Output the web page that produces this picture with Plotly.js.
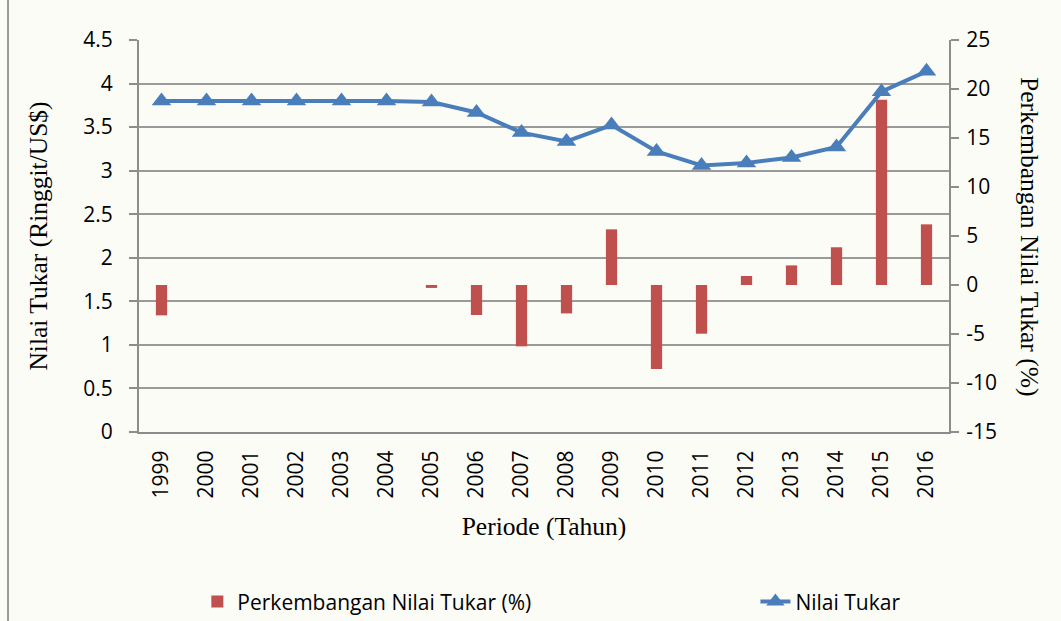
<!DOCTYPE html>
<html>
<head>
<meta charset="utf-8">
<script src="https://cdn.plot.ly/plotly-3.0.1.min.js"></script>
<style>
html,body{margin:0;padding:0;background:#fcfcf6;}
#chart{width:1061px;height:621px;}
</style>
</head>
<body>
<div id="chart"></div>
<script>
const years = ["1999","2000","2001","2002","2003","2004","2005","2006","2007","2008","2009","2010","2011","2012","2013","2014","2015","2016"];
const nilaiTukar = [3.80,3.80,3.80,3.80,3.80,3.80,3.787,3.668,3.437,3.336,3.524,3.221,3.060,3.089,3.151,3.273,3.906,4.140];
const perkembangan = [-3.1,0,0,0,0,0,-0.3,-3.06,-6.26,-2.9,5.68,-8.57,-4.97,0.92,2.0,3.85,18.9,6.19];
const leftTicks = [0,0.5,1,1.5,2,2.5,3,3.5,4,4.5];
const rightTicks = [-15,-10,-5,0,5,10,15,20,25];

const tickFont = {family:"Open Sans, sans-serif", size:21, color:"#000"};
const titleFont = {family:"Liberation Serif, serif", size:25.5, color:"#000"};
const legendFont = {family:"Open Sans, sans-serif", size:21, color:"#000"};

const data = [
  {
    type:"bar", x:years, y:perkembangan, yaxis:"y",
    name:"Perkembangan Nilai Tukar (%)", legend:"legend",
    marker:{color:"#c0504d"}, width:0.25
  },
  {
    type:"scatter", mode:"lines+markers", x:years, y:nilaiTukar, yaxis:"y2",
    name:"Nilai Tukar", legend:"legend2",
    line:{color:"#4a7ebb", width:4},
    marker:{symbol:"triangle-up", size:17, color:"#4a7ebb"}
  }
];

const layout = {
  width:1061, height:621,
  paper_bgcolor:"#fcfcf6", plot_bgcolor:"#fcfcf6",
  margin:{l:139, r:112, t:40, b:189},
  showlegend:true,
  legend:{orientation:"h", xref:"container", yref:"container", x:0.186, y:0.031,
          xanchor:"left", yanchor:"middle", font:legendFont, bgcolor:"rgba(0,0,0,0)"},
  legend2:{orientation:"h", xref:"container", yref:"container", x:0.712, y:0.031,
          xanchor:"left", yanchor:"middle", font:legendFont, bgcolor:"rgba(0,0,0,0)"},
  xaxis:{
    type:"category", range:[-0.5,17.5], tickangle:-90, tickfont:tickFont, showgrid:false,
    showline:true, linecolor:"#8c8c8c", linewidth:2, ticks:"", zeroline:false,
    ticklabelstandoff:8, automargin:true,
    title:{text:"Periode (Tahun)", font:titleFont, standoff:20}
  },
  yaxis:{
    side:"right", range:[-15,25], tickvals:rightTicks,
    ticktext:rightTicks.map(v=>String(v)), tickfont:tickFont,
    showgrid:false, zeroline:false, showline:true, linecolor:"#8c8c8c", linewidth:2,
    ticks:"outside", ticklen:8, tickcolor:"#8c8c8c", tickwidth:2, ticklabelstandoff:3
  },
  yaxis2:{
    overlaying:"y", side:"left", range:[0,4.5], tickvals:leftTicks,
    ticktext:leftTicks.map(v=>String(v)), tickfont:tickFont,
    showgrid:true, gridcolor:"#9a9a9a", gridwidth:2, zeroline:false,
    showline:true, linecolor:"#8c8c8c", linewidth:2,
    ticks:"outside", ticklen:8, tickcolor:"#8c8c8c", tickwidth:2, ticklabelstandoff:12,
    automargin:true,
    title:{text:"Nilai Tukar (Ringgit/US$)", font:titleFont, standoff:28}
  },
  annotations:[
    {text:"Perkembangan Nilai Tukar (%)", textangle:90, xref:"paper", yref:"paper",
     x:1.1, y:0.5, xanchor:"center", yanchor:"middle", showarrow:false, font:titleFont}
  ],
  shapes:[
    {type:"line", xref:"paper", yref:"paper", x0:-0.1617, x1:-0.1617, y0:-0.49, y1:1.11,
     line:{color:"#9a9a9a", width:2}}
  ]
};

Plotly.newPlot("chart", data, layout, {displayModeBar:false, staticPlot:true});
</script>
</body>
</html>
